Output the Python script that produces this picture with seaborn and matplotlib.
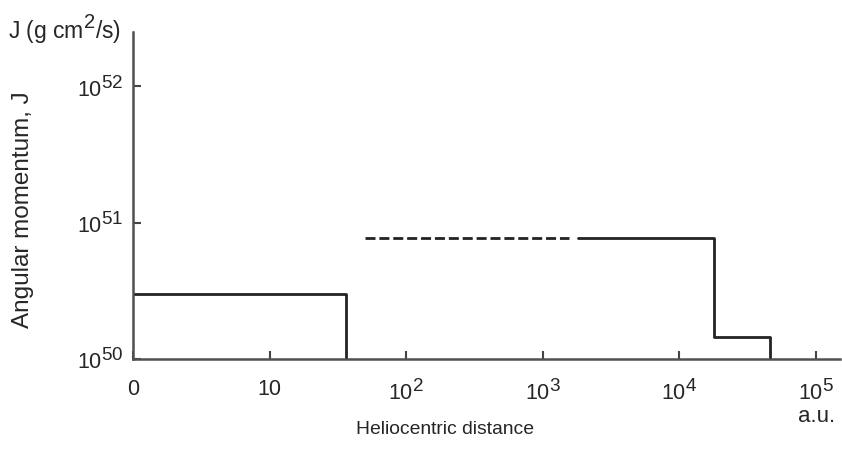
import matplotlib
matplotlib.use("Agg")
import matplotlib.pyplot as plt
import matplotlib.ticker as mticker
import matplotlib._mathtext as _mt
import seaborn as sns

# Data (distance in a.u., angular momentum J in g cm^2/s)
inner_x = [1, 36, 36]
inner_y = [3.0e50, 3.0e50, 1.0e50]
dashed_x = [50, 1550]
dashed_y = [7.7e50, 7.7e50]
outer_x = [1820, 18000, 18000, 46000, 46000]
outer_y = [7.7e50, 7.7e50, 1.45e50, 1.45e50, 1.0e50]

x_ticks = [1, 10, 100, 1000, 10000, 100000]
x_tick_labels = ["0", "10", "$10^2$", "$10^3$", "$10^4$", "$10^5$"]
y_ticks = [1e50, 1e51, 1e52]
y_tick_labels = ["$10^{50}$", "$10^{51}$", "$10^{52}$"]

sns.set_style("white")
plt.rcParams["font.family"] = ["Liberation Sans", "DejaVu Sans"]
plt.rcParams["mathtext.fontset"] = "custom"
plt.rcParams["mathtext.rm"] = "Liberation Sans"
plt.rcParams["mathtext.it"] = "Liberation Sans"
plt.rcParams["mathtext.bf"] = "Liberation Sans"
plt.rcParams["mathtext.default"] = "regular"
# larger superscripts, like the reference typesetting
_mt.SHRINK_FACTOR = 0.88

txt = "#262626"
fig = plt.figure(figsize=(8.42, 4.5), dpi=100)
ax = fig.add_axes([0.158, 0.202, 0.84, 0.727])

col = "#222222"
lw = 2.0
sns.lineplot(x=inner_x, y=inner_y, ax=ax, color=col, lw=lw, sort=False,
             estimator=None)
sns.lineplot(x=dashed_x, y=dashed_y, ax=ax, color=col, lw=lw, sort=False,
             estimator=None, linestyle=(0, (3.6, 1.4)))
sns.lineplot(x=outer_x, y=outer_y, ax=ax, color=col, lw=lw, sort=False,
             estimator=None)

ax.set_xscale("log")
ax.set_yscale("log")
ax.set_xlim(1, 10 ** 5.18)
ax.set_ylim(1e50, 10 ** 52.4)

ax.xaxis.set_major_locator(mticker.FixedLocator(x_ticks))
ax.xaxis.set_minor_locator(mticker.NullLocator())
ax.set_xticklabels(x_tick_labels)
ax.yaxis.set_major_locator(mticker.FixedLocator(y_ticks))
ax.yaxis.set_minor_locator(mticker.NullLocator())
ax.set_yticklabels(y_tick_labels)

ax.tick_params(axis="both", which="major", direction="in", length=6,
               width=1.5, color="#444444", labelsize=15.5, labelcolor=txt,
               bottom=True, left=True, top=False, right=False)
ax.tick_params(axis="x", pad=14.5)
ax.tick_params(axis="y", pad=7)

for s in ["top", "right"]:
    ax.spines[s].set_visible(False)
for s in ["left", "bottom"]:
    ax.spines[s].set_color("#505050")
    ax.spines[s].set_linewidth(1.8)

ax.set_xlabel("")
ax.set_ylabel("")
fig.text(0.528, 0.045, "Heliocentric distance", ha="center", va="center",
         fontsize=13.9, color=txt)
fig.text(0.970, 0.074, "a.u.", ha="center", va="center",
         fontsize=16, color=txt)
fig.text(0.009, 0.935, "J (g cm$^2$/s)", ha="left", va="center",
         fontsize=16.5, color=txt)
fig.text(0.027, 0.533, "Angular momentum, J", ha="center", va="center",
         rotation=90, fontsize=17.5, color=txt)

fig.savefig("out.png", dpi=100)
